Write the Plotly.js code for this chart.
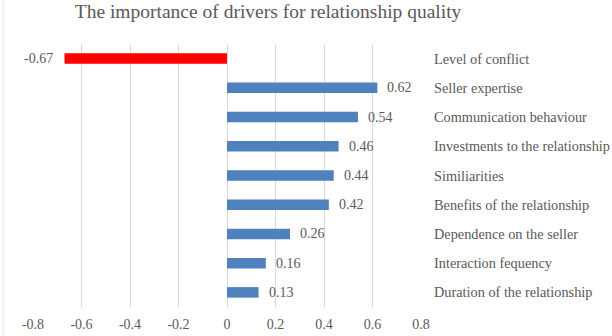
<!DOCTYPE html>
<html>
<head>
<meta charset="utf-8">
<script src="https://cdn.plot.ly/plotly-3.0.1.min.js"></script>
<style>
  html, body { margin: 0; padding: 0; background: #fff; }
  #chart { width: 612px; height: 336px; }
</style>
</head>
<body>
<div id="chart"></div>
<script>
// Drivers of relationship quality and their estimated importance
const drivers = [
  "Level of conflict",
  "Seller expertise",
  "Communication behaviour",
  "Investments to the relationship",
  "Similiarities",
  "Benefits of the relationship",
  "Dependence on the seller",
  "Interaction fequency",
  "Duration of the relationship"
];
const importance = [-0.67, 0.62, 0.54, 0.46, 0.44, 0.42, 0.26, 0.16, 0.13];
const xTickValues = [-0.8, -0.6, -0.4, -0.2, 0, 0.2, 0.4, 0.6, 0.8];
const xTickLabels = ["-0.8", "-0.6", "-0.4", "-0.2", "0", "0.2", "0.4", "0.6", "0.8"];

const FONT = "'Liberation Serif', 'Times New Roman', serif";
const GREY = "#595959";
const GRID = "#d9d9d9";

const barColors = importance.map(v => v < 0 ? "#ff0000" : "#4f81bd");

const trace = {
  type: "bar",
  orientation: "h",
  x: importance,
  y: drivers,
  width: 0.36,
  marker: { color: barColors, line: { width: 0 } },
  hoverinfo: "x+y"
};

// value labels just beyond each bar end
const valueLabels = importance.map((v, i) => ({
  x: v,
  y: drivers[i],
  xref: "x",
  yref: "y",
  text: v.toFixed(2),
  showarrow: false,
  xanchor: v < 0 ? "right" : "left",
  xshift: v < 0 ? -10 : 8,
  font: { family: FONT, size: 14, color: GREY }
}));

const layout = {
  width: 612,
  height: 336,
  margin: { l: 33, r: 191, t: 44, b: 29 },
  paper_bgcolor: "#ffffff",
  plot_bgcolor: "#ffffff",
  showlegend: false,
  bargap: 0.6,
  font: { family: FONT, size: 14, color: GREY },
  title: {
    text: "The importance of drivers for relationship quality",
    font: { family: FONT, size: 19.5, color: GREY },
    xref: "container",
    x: 0.438,
    xanchor: "center",
    yref: "container",
    y: 0.968,
    yanchor: "middle"
  },
  xaxis: {
    range: [-0.8, 0.8],
    tickvals: xTickValues,
    ticktext: xTickLabels,
    showgrid: true,
    gridcolor: GRID,
    gridwidth: 1,
    zeroline: true,
    zerolinecolor: GRID,
    zerolinewidth: 1,
    showline: false,
    ticks: "",
    ticklabelstandoff: 7,
    tickfont: { family: FONT, size: 14, color: GREY },
    fixedrange: true
  },
  yaxis: {
    type: "category",
    categoryorder: "array",
    categoryarray: drivers,
    autorange: "reversed",
    side: "right",
    showgrid: false,
    zeroline: false,
    showline: false,
    ticks: "",
    ticklabelstandoff: 12,
    tickfont: { family: FONT, size: 14.3, color: GREY },
    fixedrange: true
  },
  annotations: valueLabels,
  shapes: [{
    type: "line",
    xref: "paper", yref: "paper",
    x0: -0.077, x1: -0.077, y0: -0.2, y1: 1.2,
    line: { color: "#e6e6e6", width: 1 }
  }]
};

Plotly.newPlot("chart", [trace], layout, { displayModeBar: false, staticPlot: true });
</script>
</body>
</html>
